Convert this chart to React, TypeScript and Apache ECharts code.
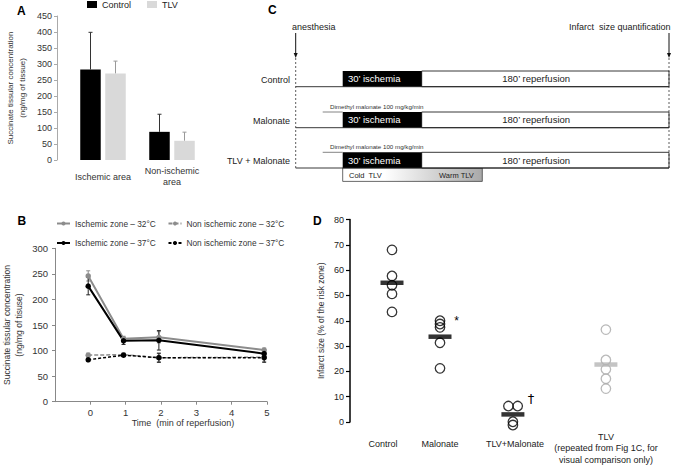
import React, { useEffect, useRef } from 'react';
import * as echarts from 'echarts';

const FONT = '"Liberation Sans", Arial, sans-serif';

// ---------- Panel A data ----------
const aCategories = ['Ischemic area', 'Non-ischemic\narea'];
const aControl = [283, 88];
const aControlErr = [116, 55];
const aTLV = [270, 60];
const aTLVErr = [39, 27];

// ---------- Panel B data ----------
const bTimes = [-0.06, 0.94, 1.94, 4.92];
const bXTicks = [0, 1, 2, 3, 4, 5];
const bIsch32 = [246, 123, 126, 101];
const bIsch32Err = [10, 5, 11, 4];
const bIsch37 = [226, 119, 120, 94];
const bIsch37Err = [17, 7, 19, 5];
const bNon32 = [91, 92, 86, 87];
const bNon32Err = [4, 3, 8, 8];
const bNon37 = [82, 91, 86, 86];
const bNon37Err = [3, 3, 9, 9];
const bNames = ['Ischemic zone – 32°C', 'Non ischemic zone – 32°C', 'Ischemic zone – 37°C', 'Non ischemic zone – 37°C'];

// ---------- Panel C (protocol) ----------
const cRows = ['Control', 'Malonate', 'TLV + Malonate'];
const cDrug = [false, true, true];
const cIschemia = "30’ ischemia";
const cReperfusion = "180’ reperfusion";
const cDrugText = 'Dimethyl malonate 100 mg/kg/min';

// ---------- Panel D data ----------
const dGroups = ['Control', 'Malonate', 'TLV+Malonate', 'TLV\n(repeated from Fig 1C, for\nvisual comparison only)'];
const dControl = [68, 57.7, 54, 50.6, 43.5];
const dMalonate = [40, 38.7, 37.4, 31.3, 21.2];
const dTlvMalonate = [6.3, 6.3, 0.1, -1.2];
const dTLV = [36.5, 24.5, 20.8, 17.1, 13.2];
const dMeans = [55, 33.7, 3.0, 22.7];

// layout constants (not data)
const dGroupPos = [1.4, 3.0, 5.43, 8.53];
const dJitter = [[0, 0, 0, 0, 0], [0, 0, 0, 0, 0], [-0.15, 0.16, 0, 0], [0, 0, 0, 0, 0]];
const GREY_LINE = '#8c8c8c';
const GREY_D = '#a8a8a8';

function errBarRender(color: string, capHalf: number, offsetPx: number, upOnly: boolean) {
  return (params: any, api: any) => {
    const x = api.value(0);
    const y = api.value(1);
    const e = api.value(2);
    const top = api.coord([x, y + e]);
    const bot = api.coord([x, upOnly ? y : y - e]);
    const cx = top[0] + offsetPx;
    const st = { stroke: color, lineWidth: 1 };
    const children: any[] = [
      { type: 'line', shape: { x1: cx, y1: top[1], x2: cx, y2: bot[1] }, style: st },
      { type: 'line', shape: { x1: cx - capHalf, y1: top[1], x2: cx + capHalf, y2: top[1] }, style: st },
    ];
    if (!upOnly) {
      children.push({ type: 'line', shape: { x1: cx - capHalf, y1: bot[1], x2: cx + capHalf, y2: bot[1] }, style: st });
    }
    return { type: 'group', children };
  };
}

function txt(text: string, x: number, y: number, size: number, opts: any = {}) {
  return {
    type: 'text',
    silent: true,
    style: {
      text,
      x,
      y,
      fontSize: size,
      fontFamily: opts.family || FONT,
      fill: opts.fill || '#222',
      fontWeight: opts.bold ? 'bold' : 'normal',
      textAlign: opts.align || 'left',
      textVerticalAlign: 'middle',
      lineHeight: opts.lineHeight,
    },
    z: 100,
  };
}

function buildProtocolGraphics() {
  const left = 295.7;
  const right = 669;
  const ischStart = 342.7;
  const ischEnd = 421.7;
  const drugStart = 322.7;
  const rowTops = [71, 112, 152.3];
  const rowH = 15.7;
  const els: any[] = [];
  els.push(txt('anesthesia', 292, 27, 9));
  els.push(txt('Infarct  size quantification', 670.5, 27, 9, { align: 'right' }));
  [left, right].forEach((x) => {
    els.push({ type: 'line', shape: { x1: x, y1: 33, x2: x, y2: 54 }, style: { stroke: '#111', lineWidth: 1 }, z: 90 });
    els.push({ type: 'polygon', shape: { points: [[x - 2, 53], [x + 2, 53], [x, 58]] }, style: { fill: '#111' }, z: 90 });
    els.push({ type: 'line', shape: { x1: x, y1: 58, x2: x, y2: 168.3 }, style: { stroke: '#333', lineWidth: 0.8, lineDash: [2, 2] }, z: 90 });
  });
  cRows.forEach((name, i) => {
    const top = rowTops[i];
    const bottom = top + rowH;
    els.push(txt(name, 290, top + rowH / 2 + 1, 9, { align: 'right' }));
    els.push({ type: 'rect', shape: { x: ischEnd, y: top, width: right - ischEnd, height: rowH }, style: { fill: '#fff', stroke: '#222', lineWidth: 0.9 }, z: 80 });
    els.push({ type: 'rect', shape: { x: ischStart, y: top, width: ischEnd - ischStart, height: rowH }, style: { fill: '#000' }, z: 81 });
    els.push({ type: 'line', shape: { x1: left, y1: bottom, x2: right, y2: bottom }, style: { stroke: '#222', lineWidth: 0.9 }, z: 82 });
    els.push(txt(cIschemia, 348, top + rowH / 2, 9.5, { fill: '#fff' }));
    els.push(txt(cReperfusion, 502.3, top + rowH / 2, 9.5));
    if (cDrug[i]) {
      els.push({ type: 'line', shape: { x1: drugStart, y1: top, x2: ischStart, y2: top }, style: { stroke: '#777', lineWidth: 0.9 }, z: 82 });
      els.push(txt(cDrugText, 330, top - 6, 6.2, { fill: '#333' }));
    }
  });
  const gTop = rowTops[2] + rowH;
  els.push({
    type: 'rect',
    shape: { x: ischStart, y: gTop, width: 482.3 - ischStart, height: 13.4 },
    style: {
      fill: new echarts.graphic.LinearGradient(0, 0, 1, 0, [
        { offset: 0, color: '#ffffff' },
        { offset: 0.3, color: '#ffffff' },
        { offset: 1, color: '#a9a9a9' },
      ]),
      stroke: '#444',
      lineWidth: 0.8,
    },
    z: 79,
  });
  els.push(txt('Cold  TLV', 349, gTop + 7, 7.5));
  els.push(txt('Warm TLV', 439, gTop + 7, 7.5));
  return els;
}

function buildOption(): any {
  const bSeriesData = (vals: number[]) => vals.map((v, i) => [bTimes[i], v]);
  const bErrData = (vals: number[], errs: number[]) => vals.map((v, i) => [bTimes[i], v, errs[i]]);
  const dSets = [dControl, dMalonate, dTlvMalonate, dTLV];

  const axisLabelBase = { fontSize: 9, color: '#333', fontFamily: FONT };

  const series: any[] = [
    // Panel A
    {
      name: 'Control', type: 'bar', xAxisIndex: 0, yAxisIndex: 0, data: aControl,
      barWidth: 20.5, barGap: '22%', itemStyle: { color: '#000' },
    },
    {
      name: 'TLV', type: 'bar', xAxisIndex: 0, yAxisIndex: 0, data: aTLV,
      barWidth: 20.5, barGap: '22%', itemStyle: { color: '#d9d9d9' },
    },
    {
      type: 'custom', xAxisIndex: 0, yAxisIndex: 0, silent: true,
      data: aControl.map((v, i) => [i, v, aControlErr[i]]),
      encode: { x: 0, y: 1 },
      renderItem: errBarRender('#333', 2, -12.5, true),
    },
    {
      type: 'custom', xAxisIndex: 0, yAxisIndex: 0, silent: true,
      data: aTLV.map((v, i) => [i, v, aTLVErr[i]]),
      encode: { x: 0, y: 1 },
      renderItem: errBarRender('#999', 2, 12.5, true),
    },
    // Panel B error bars
    { type: 'custom', xAxisIndex: 1, yAxisIndex: 1, silent: true, data: bErrData(bIsch32, bIsch32Err), encode: { x: 0, y: 1 }, renderItem: errBarRender(GREY_LINE, 2, 0, false) },
    { type: 'custom', xAxisIndex: 1, yAxisIndex: 1, silent: true, data: bErrData(bNon32, bNon32Err), encode: { x: 0, y: 1 }, renderItem: errBarRender(GREY_LINE, 2, 0, false) },
    { type: 'custom', xAxisIndex: 1, yAxisIndex: 1, silent: true, data: bErrData(bIsch37, bIsch37Err), encode: { x: 0, y: 1 }, renderItem: errBarRender('#222', 2, 0, false) },
    { type: 'custom', xAxisIndex: 1, yAxisIndex: 1, silent: true, data: bErrData(bNon37, bNon37Err), encode: { x: 0, y: 1 }, renderItem: errBarRender('#222', 2, 0, false) },
    // Panel B lines
    {
      name: bNames[0], type: 'line', xAxisIndex: 1, yAxisIndex: 1, data: bSeriesData(bIsch32),
      symbol: 'circle', symbolSize: 5.5, itemStyle: { color: GREY_LINE }, lineStyle: { color: GREY_LINE, width: 2 },
    },
    {
      name: bNames[1], type: 'line', xAxisIndex: 1, yAxisIndex: 1, data: bSeriesData(bNon32),
      symbol: 'circle', symbolSize: 5.5, itemStyle: { color: GREY_LINE }, lineStyle: { color: GREY_LINE, width: 1.5, type: [4, 2] },
    },
    {
      name: bNames[2], type: 'line', xAxisIndex: 1, yAxisIndex: 1, data: bSeriesData(bIsch37),
      symbol: 'circle', symbolSize: 5.5, itemStyle: { color: '#000' }, lineStyle: { color: '#000', width: 2 },
    },
    {
      name: bNames[3], type: 'line', xAxisIndex: 1, yAxisIndex: 1, data: bSeriesData(bNon37),
      symbol: 'circle', symbolSize: 5.5, itemStyle: { color: '#000' }, lineStyle: { color: '#000', width: 1.5, type: [3, 2] },
    },
  ];

  // Panel D
  dSets.forEach((vals, g) => {
    const color = g === 3 ? GREY_D : '#000';
    series.push({
      type: 'scatter', xAxisIndex: 2, yAxisIndex: 2, clip: false,
      data: vals.map((v, i) => [dGroupPos[g] + (dJitter[g][i] || 0), v]),
      symbol: 'circle', symbolSize: 9.5,
      itemStyle: { color: 'rgba(255,255,255,0)', borderColor: color, borderWidth: 1.3 },
    });
  });
  series.push({
    type: 'scatter', xAxisIndex: 2, yAxisIndex: 2, clip: false, z: 5,
    data: dMeans.map((m, g) => ({ value: [dGroupPos[g], m], itemStyle: { color: g === 3 ? '#b5b5b5' : '#000' } })),
    symbol: 'rect', symbolSize: [23, 4.5],
  });

  const graphic: any[] = [
    txt('A', 17, 11, 12, { bold: true, fill: '#000' }),
    txt('B', 17.5, 220.8, 12, { bold: true, fill: '#000' }),
    txt('C', 268, 10.3, 12, { bold: true, fill: '#000' }),
    txt('D', 313, 220.5, 12, { bold: true, fill: '#000' }),
    txt(dGroups[0], 383, 444.3, 9, { align: 'center' }),
    txt(dGroups[1], 440, 444.3, 9, { align: 'center' }),
    txt(dGroups[2], 515, 444.3, 9, { align: 'center' }),
    txt(dGroups[3], 606, 448.3, 9, { align: 'center', lineHeight: 11.7 }),
    txt('*', 456.7, 321, 12, { align: 'center', fill: '#000' }),
    txt('†', 531, 398, 13, { align: 'center', fill: '#000', family: '"DejaVu Sans", sans-serif' }),
    ...buildProtocolGraphics(),
  ];

  const legendText = { fontSize: 8.3, color: '#333', fontFamily: FONT };

  return {
    animation: false,
    backgroundColor: '#fff',
    textStyle: { fontFamily: FONT },
    grid: [
      { left: 68.5, top: 16, width: 138, height: 144 },
      { left: 51.5, top: 248.3, width: 215.5, height: 153.4 },
      { left: 350, top: 219.5, width: 300, height: 202.5 },
    ],
    legend: [
      {
        data: ['Control', 'TLV'], left: 87, top: 0, padding: 0, icon: 'rect', itemWidth: 10, itemHeight: 7, itemGap: 16,
        textStyle: { fontSize: 9, color: '#222', fontFamily: FONT }, selectedMode: false,
      },
      {
        data: [bNames[0], bNames[1]], left: 56, top: 219.5, padding: 0, itemWidth: 13, itemHeight: 5, itemGap: 11.7,
        textStyle: legendText, selectedMode: false,
      },
      {
        data: [bNames[2], bNames[3]], left: 56, top: 239, padding: 0, itemWidth: 13, itemHeight: 5, itemGap: 11.7,
        textStyle: legendText, selectedMode: false,
      },
    ],
    xAxis: [
      {
        gridIndex: 0, type: 'category', data: aCategories,
        axisLine: { show: false }, axisTick: { show: false },
        axisLabel: { ...axisLabelBase, verticalAlign: 'middle', margin: 16.5, lineHeight: 11, interval: 0 },
      },
      {
        gridIndex: 1, type: 'value', min: -1, max: 5, interval: 1,
        splitLine: { show: false },
        axisLine: { onZero: false, lineStyle: { color: '#888' } },
        axisTick: { show: true, customValues: bXTicks, length: 3, lineStyle: { color: '#888' } },
        axisLabel: { ...axisLabelBase, fontSize: 9.5, customValues: bXTicks, margin: 6 },
        name: 'Time  (min of reperfusion)', nameLocation: 'middle', nameGap: 16,
        nameTextStyle: { fontSize: 9, color: '#333', fontFamily: FONT, padding: [0, 0, 0, 44] },
      },
      { gridIndex: 2, type: 'value', min: 0, max: 10, show: false },
    ],
    yAxis: [
      {
        gridIndex: 0, type: 'value', min: 0, max: 450, interval: 50, offset: 11.5,
        splitLine: { show: false },
        axisLine: { show: true, onZero: false, lineStyle: { color: '#aaa' } },
        axisTick: { show: true, length: 3, lineStyle: { color: '#aaa' } },
        axisLabel: { ...axisLabelBase, margin: 5 },
        name: 'Succinate tissular concentration\n(ng/mg of tissue)', nameLocation: 'middle', nameGap: 29,
        nameTextStyle: { fontSize: 8, color: '#333', lineHeight: 12, fontFamily: FONT },
      },
      {
        gridIndex: 1, type: 'value', min: 0, max: 300, interval: 50,
        splitLine: { show: false },
        axisLine: { show: true, onZero: false, lineStyle: { color: '#888' } },
        axisTick: { show: true, length: 3, lineStyle: { color: '#888' } },
        axisLabel: { ...axisLabelBase, fontSize: 9.5, margin: 7 },
        name: 'Succinate tissular concentration\n(ng/mg of tisuse)', nameLocation: 'middle', nameGap: 30,
        nameTextStyle: { fontSize: 8.5, color: '#333', lineHeight: 12, fontFamily: FONT },
      },
      {
        gridIndex: 2, type: 'value', min: 0, max: 80, interval: 10,
        splitLine: { show: false },
        axisLine: { show: true, onZero: false, lineStyle: { color: '#000', width: 1.5 } },
        axisTick: { show: true, length: 4, lineStyle: { color: '#000', width: 1.2 } },
        axisLabel: { ...axisLabelBase, color: '#222', margin: 6 },
        name: 'Infarct size (% of the risk zone)', nameLocation: 'middle', nameGap: 25,
        nameTextStyle: { fontSize: 8.5, color: '#333', fontFamily: FONT },
      },
    ],
    series,
    graphic,
  };
}

export default function App() {
  const ref = useRef<HTMLDivElement>(null);
  useEffect(() => {
    document.body.style.margin = '0';
    const chart = echarts.init(ref.current as HTMLDivElement, null, { renderer: 'svg' });
    chart.setOption(buildOption());
    return () => chart.dispose();
  }, []);
  return <div ref={ref} style={{ width: 675, height: 466, background: '#fff' }} />;
}
